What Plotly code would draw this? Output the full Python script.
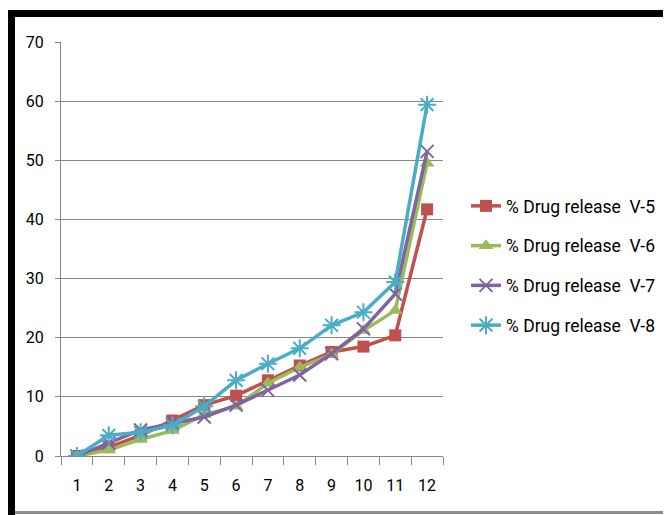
import plotly.graph_objects as go

# Sampling points and cumulative % drug release for each formulation
time_points = [str(i) for i in range(1, 13)]
release_v5 = [0, 1.5, 3.5, 6.0, 8.6, 10.2, 12.8, 15.3, 17.6, 18.5, 20.4, 41.7]
release_v6 = [0, 1.0, 2.8, 4.3, 7.0, 8.4, 12.3, 15.0, 17.2, 21.2, 24.6, 49.5]
release_v7 = [0, 2.2, 4.4, 5.5, 6.6, 8.6, 11.1, 13.7, 17.3, 21.5, 27.4, 51.5]
release_v8 = [0, 3.5, 4.0, 5.2, 8.4, 12.8, 15.6, 18.2, 22.1, 24.3, 29.4, 59.4]
series_names = ["% Drug release\u00a0\u00a0V-5", "% Drug release\u00a0\u00a0V-6",
                "% Drug release\u00a0\u00a0V-7", "% Drug release\u00a0\u00a0V-8"]
y_ticks = [0, 10, 20, 30, 40, 50, 60, 70]

W, H = 666, 515
L, R, T, B = 61, 443, 42, 456  # plot area in pixels

FONT = "Roboto, Liberation Sans Narrow, sans-serif"

def px(x):
    return (x - L) / (R - L)

def py(y):
    return (B - y) / (B - T)

styles = [
    dict(color="#C0504D", symbol="square", size=12, line=dict(width=0)),
    dict(color="#9BBB59", symbol="triangle-up", size=13, line=dict(width=0)),
    dict(color="#8064A2", symbol="x-thin-open", size=13, line=dict(width=2, color="#8064A2")),
    dict(color="#4BACC6", symbol="asterisk-open", size=15, line=dict(width=2, color="#4BACC6")),
]

fig = go.Figure()
for i, (name, vals, st) in enumerate(zip(series_names,
                                         [release_v5, release_v6, release_v7, release_v8],
                                         styles)):
    fig.add_trace(go.Scatter(
        x=time_points, y=vals, name=name, mode="lines+markers",
        legendgroup=f"g{i}",
        line=dict(color=st["color"], width=3.5),
        marker=st,
    ))

# Frame around the chart: heavy black top/left edges, thin grey bottom edge
frame = [
    dict(x0=px(8), x1=px(663), y0=py(10), y1=py(17), fillcolor="black"),
    dict(x0=px(8), x1=px(15), y0=py(10), y1=py(515), fillcolor="black"),
    dict(x0=px(15), x1=px(663), y0=py(511), y1=py(514), fillcolor="#8C8C8C"),
]
shapes = [dict(type="rect", xref="paper", yref="paper", line=dict(width=0),
               layer="above", **s) for s in frame]

fig.update_layout(
    width=W, height=H,
    margin=dict(l=L, r=W - R, t=T, b=H - B, autoexpand=False),
    paper_bgcolor="white", plot_bgcolor="white",
    font=dict(family=FONT, size=16, color="#000000"),
    showlegend=True,
    legend=dict(x=px(466), y=py(188), xanchor="left", yanchor="top",
                traceorder="grouped", tracegroupgap=14,
                font=dict(family=FONT, size=17.5, color="#000000"),
                bgcolor="rgba(0,0,0,0)"),
    shapes=shapes,
    xaxis=dict(type="category", range=[-0.5, 11.5], showgrid=False,
               showline=True, linecolor="#868686", linewidth=1,
               ticks="outside", tickson="boundaries", ticklen=8,
               tickcolor="#868686", ticklabelstandoff=15,
               tickfont=dict(family=FONT, size=16)),
    yaxis=dict(range=[0, 70], tickvals=y_ticks, showgrid=True,
               gridcolor="#868686", gridwidth=1, zeroline=False,
               showline=True, linecolor="#868686", linewidth=1,
               ticks="outside", ticklen=5, tickcolor="#868686",
               ticklabelstandoff=8, tickfont=dict(family=FONT, size=16)),
)

fig.write_html("out.html")
